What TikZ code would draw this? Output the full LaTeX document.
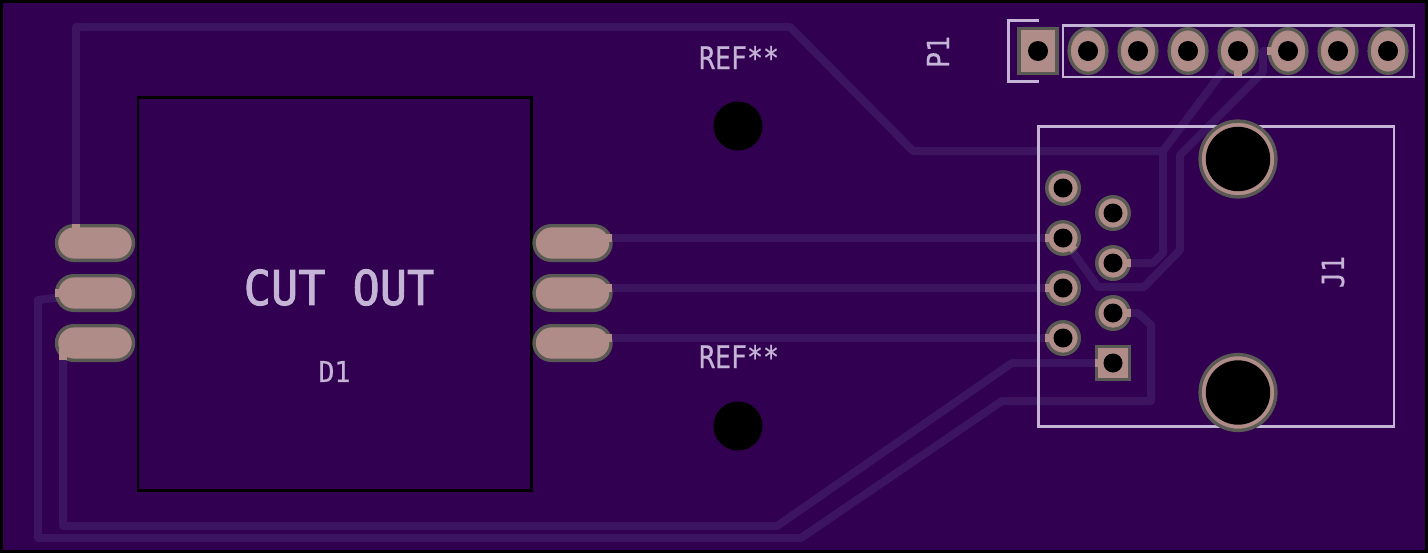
\documentclass[tikz,border=0pt]{standalone}
\usepackage{fontspec}
\usetikzlibrary{shapes.misc,shapes.geometric,backgrounds}
\newfontfamily\silkfont[FakeBold=0.5]{DejaVu Sans Mono}
\newfontfamily\silkbigfont[FakeBold=2]{DejaVu Sans Mono}
\definecolor{boardc}{HTML}{310050}
\definecolor{tracec}{HTML}{3D1460}
\definecolor{silkc}{HTML}{C4B4D6}
\definecolor{padc}{HTML}{B08C88}
\definecolor{ringc}{HTML}{5A5A54}
\newcommand{\silktxt}[3]{\scalebox{#1}[#2]{#3}}
\tikzset{
  x=0.5pt,y=-0.5pt,
  board/.style={draw=black,line width=1.4pt,fill=boardc},
  trace/.style={draw=tracec,line width=4pt,line join=round},
  stub/.style={draw=padc,line width=4pt},
  silk/.style={draw=silkc,line width=1.3pt},
  edgecut/.style={draw=black,line width=1.35pt},
  padbase/.style={draw=ringc,fill=padc,line width=1.7pt,inner sep=0pt,outer sep=0pt},
  smd/.style={padbase,rounded rectangle,minimum width=38.5pt,minimum height=17.3pt},
  ovalpad/.style={padbase,ellipse,minimum width=18.9pt,minimum height=22.3pt},
  squarepad/.style={padbase,rectangle,minimum width=19.1pt,minimum height=22.3pt},
  roundpad/.style={padbase,circle,minimum size=16.3pt},
  sqpad/.style={padbase,rectangle,minimum size=16.3pt},
  bigpad/.style={padbase,circle,minimum size=37.9pt},
  drill/.style={fill=black,circle,inner sep=0pt,outer sep=0pt,minimum size=#1},
  silktext/.style={text=silkc,inner sep=0pt,font=\silkfont\fontsize{13.3pt}{14pt}\selectfont},
  bigtext/.style={text=silkc,inner sep=0pt,font=\silkbigfont\fontsize{22.6pt}{24pt}\selectfont},
}
\begin{document}
\begin{tikzpicture}
\useasboundingbox (0,0) rectangle (1428,553);

% pads
\foreach \n/\y in {1/243,2/293,3/343}{
  \node[smd] (L\n) at (95,\y) {};
  \node[smd] (R\n) at (572.5,\y) {};
}
\node[squarepad] (H1) at (1038,51) {};
\foreach \n/\xx in {2/1088,3/1138,4/1188,5/1238,6/1288,7/1338,8/1388}{
  \node[ovalpad] (H\n) at (\xx,51) {};
}
\foreach \n/\xx/\y in {1/1063/188,2/1113/213,3/1063/238,4/1113/263,5/1063/288,6/1113/313,7/1063/338}{
  \node[roundpad] (J\n) at (\xx,\y) {};
}
\node[sqpad] (J8) at (1113,363) {};
\node[bigpad] (B1) at (1238,159) {};
\node[bigpad] (B2) at (1238,392.5) {};

% stubs where copper crosses the pad outline
\draw[stub] ([xshift=-9.5pt]L1.center) -- ++(0,-19);
\draw[stub] ([xshift=-12pt]L2.center) -- ++(-16,0);
\draw[stub] ([xshift=-16pt]L3.center) -- ++(0,17);
\foreach \n in {1,2,3}{\draw[stub] ([yshift=2.5pt]R\n.center) -- ++(39.5,0);}
\draw[stub] (H5.center) -- ++(0,25);
\draw[stub] (H6.center) -- ++(-21,0);
\draw[stub] (J3.center) -- ++(-18,0);
\draw[stub] (J5.center) -- ++(-18,0);
\draw[stub] (J7.center) -- ++(-18,0);
\draw[stub] (J4.center) -- ++(18,0);
\draw[stub] (J6.center) -- ++(18,0);
\draw[stub] (J8.center) -- ++(-18,0);
\draw[stub] (J3.center) -- ++(11,12);

% drills
\foreach \n in {1,...,8}{\node[drill=10pt] at (H\n.center) {};}
\foreach \n in {1,...,8}{\node[drill=9.5pt] at (J\n.center) {};}
\node[drill=32.2pt] at (B1.center) {};
\node[drill=32.2pt] at (B2.center) {};
\node[drill=24.5pt] (M1) at (738,126) {};
\node[drill=24.5pt] (M2) at (738,426) {};

% labels
\node[silktext] (tP1) at (938,52) {\rotatebox{90}{\silktxt{1}{1.15}{P1}}};
\node[silktext] (tJ1) at (1333,272) {\rotatebox{90}{\silktxt{1}{1.15}{J1}}};
\node[silktext] (tR1) at (739,57.5) {\silktxt{1}{1.18}{REF**}};
\node[silktext] (tR2) at (739,356.5) {\silktxt{1}{1.18}{REF**}};
\node[silktext] (tD1) at (334.5,371.5) {\silktxt{1}{1.08}{D1}};
\node[bigtext] (tC) at (339,287.5) {\silktxt{1}{1.06}{CUT OUT}};

\begin{scope}[on background layer]
  \draw[board] (1.4,1.4) rectangle (1426.4,551.4);
  % copper traces
  \draw[trace] ([xshift=-9.5pt]L1.center) -- (76,27) -- (790,27) -- (913,151) -- (1163,151) -- (H5.center);
  \draw[trace] (J4.center) -- (1153,263) -- (1163,253) -- (1163,151);
  \draw[trace] (H6.center) -- (1263,51) -- (1263,72) -- (1180,155) -- (1180,250) -- (1144,287) -- (1098,287) -- (J3.center);
  \draw[trace] (J6.center) -- (1138,313) -- (1151,325) -- (1151,401) -- (1002,401) -- (801,538) -- (38,538) -- (38,300) -- (L2.center);
  \draw[trace] (J8.center) -- (1012,363) -- (777,526) -- (63,526) -- ([xshift=-16pt]L3.center);
  \draw[trace] ([yshift=2.5pt]R1.center) -- (J3.center);
  \draw[trace] ([yshift=2.5pt]R2.center) -- (J5.center);
  \draw[trace] ([yshift=2.5pt]R3.center) -- (J7.center);
  % silkscreen
  \draw[silk] (1063,25.7) rectangle (1414,77);
  \draw[silk] (1039,20.5) -- (1008.5,20.5) -- (1008.5,81.5) -- (1039,81.5);
  \draw[silk] (1038.5,126.5) rectangle (1394,426.5);
  \draw[edgecut] (138,97.5) rectangle (531.5,490.5);
\end{scope}
\end{tikzpicture}
\end{document}
